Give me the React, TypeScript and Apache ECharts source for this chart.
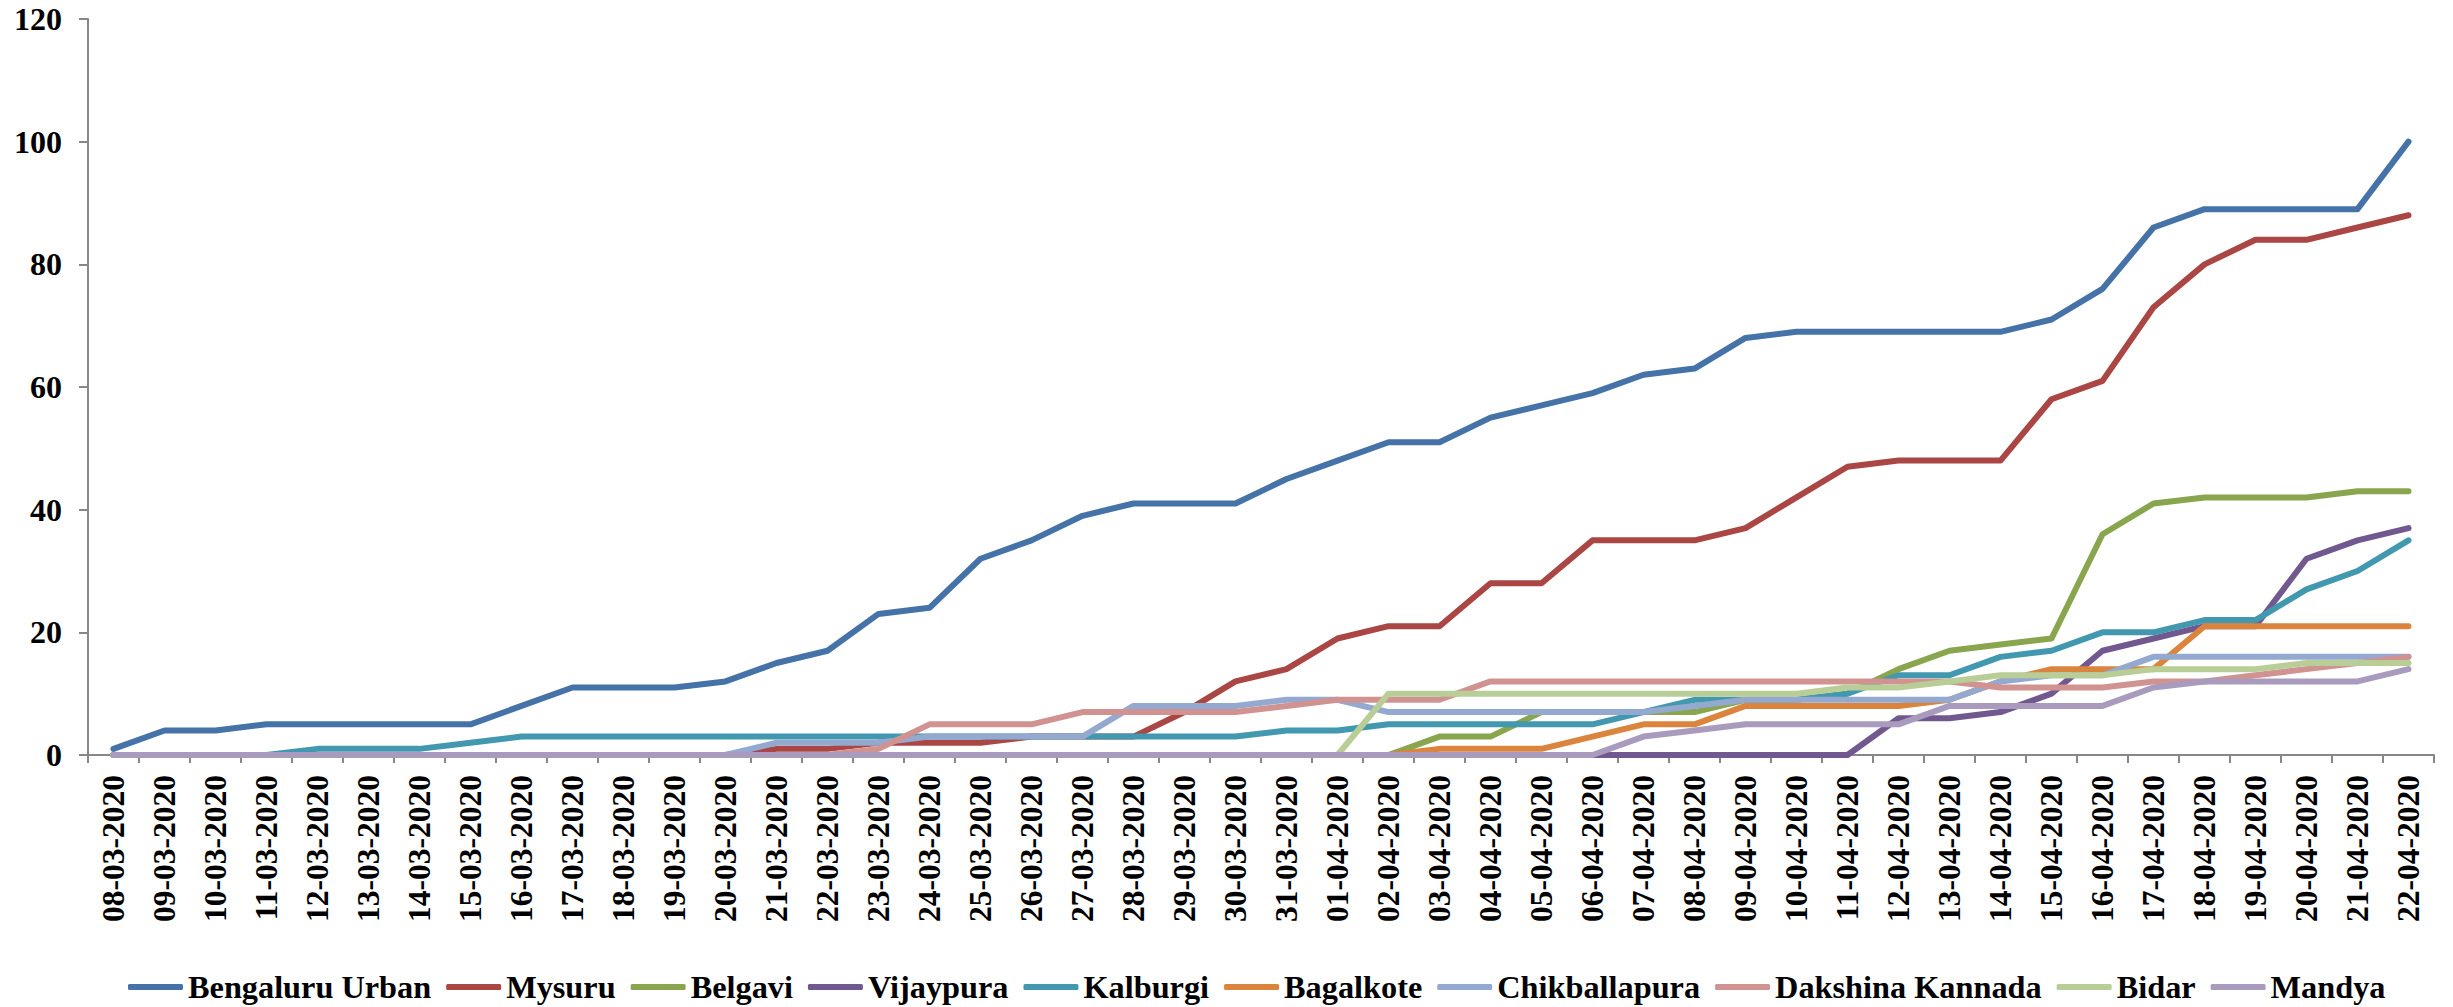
import React, { useEffect, useRef } from "react";
import * as echarts from "echarts";

const dates = [
  "08-03-2020", "09-03-2020", "10-03-2020", "11-03-2020", "12-03-2020", "13-03-2020", "14-03-2020",
  "15-03-2020", "16-03-2020", "17-03-2020", "18-03-2020", "19-03-2020", "20-03-2020", "21-03-2020",
  "22-03-2020", "23-03-2020", "24-03-2020", "25-03-2020", "26-03-2020", "27-03-2020", "28-03-2020",
  "29-03-2020", "30-03-2020", "31-03-2020", "01-04-2020", "02-04-2020", "03-04-2020", "04-04-2020",
  "05-04-2020", "06-04-2020", "07-04-2020", "08-04-2020", "09-04-2020", "10-04-2020", "11-04-2020",
  "12-04-2020", "13-04-2020", "14-04-2020", "15-04-2020", "16-04-2020", "17-04-2020", "18-04-2020",
  "19-04-2020", "20-04-2020", "21-04-2020", "22-04-2020",
];

const bengaluruUrban = [1, 4, 4, 5, 5, 5, 5, 5, 8, 11, 11, 11, 12, 15, 17, 23, 24, 32, 35, 39, 41, 41, 41, 45, 48, 51, 51, 55, 57, 59, 62, 63, 68, 69, 69, 69, 69, 69, 71, 76, 86, 89, 89, 89, 89, 100];
const mysuru = [0, 0, 0, 0, 0, 0, 0, 0, 0, 0, 0, 0, 0, 1, 1, 2, 2, 2, 3, 3, 3, 7, 12, 14, 19, 21, 21, 28, 28, 35, 35, 35, 37, 42, 47, 48, 48, 48, 58, 61, 73, 80, 84, 84, 86, 88];
const belgavi = [0, 0, 0, 0, 0, 0, 0, 0, 0, 0, 0, 0, 0, 0, 0, 0, 0, 0, 0, 0, 0, 0, 0, 0, 0, 0, 3, 3, 7, 7, 7, 7, 9, 9, 10, 14, 17, 18, 19, 36, 41, 42, 42, 42, 43, 43];
const vijaypura = [0, 0, 0, 0, 0, 0, 0, 0, 0, 0, 0, 0, 0, 0, 0, 0, 0, 0, 0, 0, 0, 0, 0, 0, 0, 0, 0, 0, 0, 0, 0, 0, 0, 0, 0, 6, 6, 7, 10, 17, 19, 21, 21, 32, 35, 37];
const kalburgi = [0, 0, 0, 0, 1, 1, 1, 2, 3, 3, 3, 3, 3, 3, 3, 3, 3, 3, 3, 3, 3, 3, 3, 4, 4, 5, 5, 5, 5, 5, 7, 9, 9, 9, 10, 13, 13, 16, 17, 20, 20, 22, 22, 27, 30, 35];
const bagalkote = [0, 0, 0, 0, 0, 0, 0, 0, 0, 0, 0, 0, 0, 0, 0, 0, 0, 0, 0, 0, 0, 0, 0, 0, 0, 0, 1, 1, 1, 3, 5, 5, 8, 8, 8, 8, 9, 12, 14, 14, 14, 21, 21, 21, 21, 21];
const chikballapura = [0, 0, 0, 0, 0, 0, 0, 0, 0, 0, 0, 0, 0, 2, 2, 2, 3, 3, 3, 3, 8, 8, 8, 9, 9, 7, 7, 7, 7, 7, 7, 8, 9, 9, 9, 9, 9, 12, 13, 13, 16, 16, 16, 16, 16, 16];
const dakshinaKannada = [0, 0, 0, 0, 0, 0, 0, 0, 0, 0, 0, 0, 0, 0, 0, 1, 5, 5, 5, 7, 7, 7, 7, 8, 9, 9, 9, 12, 12, 12, 12, 12, 12, 12, 12, 12, 12, 11, 11, 11, 12, 12, 13, 14, 15, 16];
const bidar = [0, 0, 0, 0, 0, 0, 0, 0, 0, 0, 0, 0, 0, 0, 0, 0, 0, 0, 0, 0, 0, 0, 0, 0, 0, 10, 10, 10, 10, 10, 10, 10, 10, 10, 11, 11, 12, 13, 13, 13, 14, 14, 14, 15, 15, 15];
const mandya = [0, 0, 0, 0, 0, 0, 0, 0, 0, 0, 0, 0, 0, 0, 0, 0, 0, 0, 0, 0, 0, 0, 0, 0, 0, 0, 0, 0, 0, 0, 3, 4, 5, 5, 5, 5, 8, 8, 8, 8, 11, 12, 12, 12, 12, 14];

const seriesNames = ["Bengaluru Urban", "Mysuru", "Belgavi", "Vijaypura", "Kalburgi", "Bagalkote", "Chikballapura", "Dakshina Kannada", "Bidar", "Mandya"];
const seriesData = [bengaluruUrban, mysuru, belgavi, vijaypura, kalburgi, bagalkote, chikballapura, dakshinaKannada, bidar, mandya];
const seriesColors = ["#4572A7", "#AA4643", "#89A54E", "#71588F", "#4198AF", "#DB843D", "#93A9CF", "#D19392", "#B9CD96", "#A99BBD"];

const yTicks = [0, 20, 40, 60, 80, 100, 120];

const FONT = "'Liberation Serif', 'Times New Roman', serif";

export default function App() {
  const ref = useRef<HTMLDivElement>(null);
  useEffect(() => {
    document.body.style.margin = "0";
    if (!ref.current) return;
    const chart = echarts.init(ref.current, null, { renderer: "svg" });
    const axisColor = "#878787";
    chart.setOption({
      animation: false,
      backgroundColor: "#ffffff",
      grid: { left: 88, right: 19, top: 19, bottom: 252, containLabel: false },
      legend: {
        left: 128,
        top: 971,
        padding: 0,
        itemGap: 15,
        itemWidth: 55,
        itemHeight: 6,
        icon: "roundRect",
        textStyle: { fontFamily: FONT, fontWeight: "bold", fontSize: 32.3, color: "#000" },
        data: seriesNames,
      },
      xAxis: {
        type: "category",
        data: dates,
        boundaryGap: true,
        axisLine: { show: true, lineStyle: { color: axisColor, width: 2 } },
        axisTick: { show: true, length: 8, interval: 0, lineStyle: { color: axisColor, width: 2 } },
        axisLabel: {
          interval: 0,
          rotate: 90,
          margin: 20,
          fontFamily: FONT,
          fontWeight: "bold",
          fontSize: 31.5,
          color: "#000",
        },
        splitLine: { show: false },
      },
      yAxis: {
        type: "value",
        min: yTicks[0],
        max: yTicks[yTicks.length - 1],
        interval: 20,
        axisLine: { show: true, lineStyle: { color: axisColor, width: 2 } },
        axisTick: { show: true, length: 9, lineStyle: { color: axisColor, width: 2 } },
        axisLabel: {
          margin: 26,
          fontFamily: FONT,
          fontWeight: "bold",
          fontSize: 32,
          color: "#000",
        },
        splitLine: { show: false },
      },
      series: seriesNames.map((name, i) => ({
        name,
        type: "line",
        data: seriesData[i],
        symbol: "none",
        showSymbol: false,
        smooth: false,
        color: seriesColors[i],
        lineStyle: { width: 6, color: seriesColors[i], cap: "round", join: "round" },
        itemStyle: { color: seriesColors[i] },
        z: 2 + i,
      })),
    });
    return () => chart.dispose();
  }, []);
  return <div ref={ref} style={{ width: 2453, height: 1007 }} />;
}
